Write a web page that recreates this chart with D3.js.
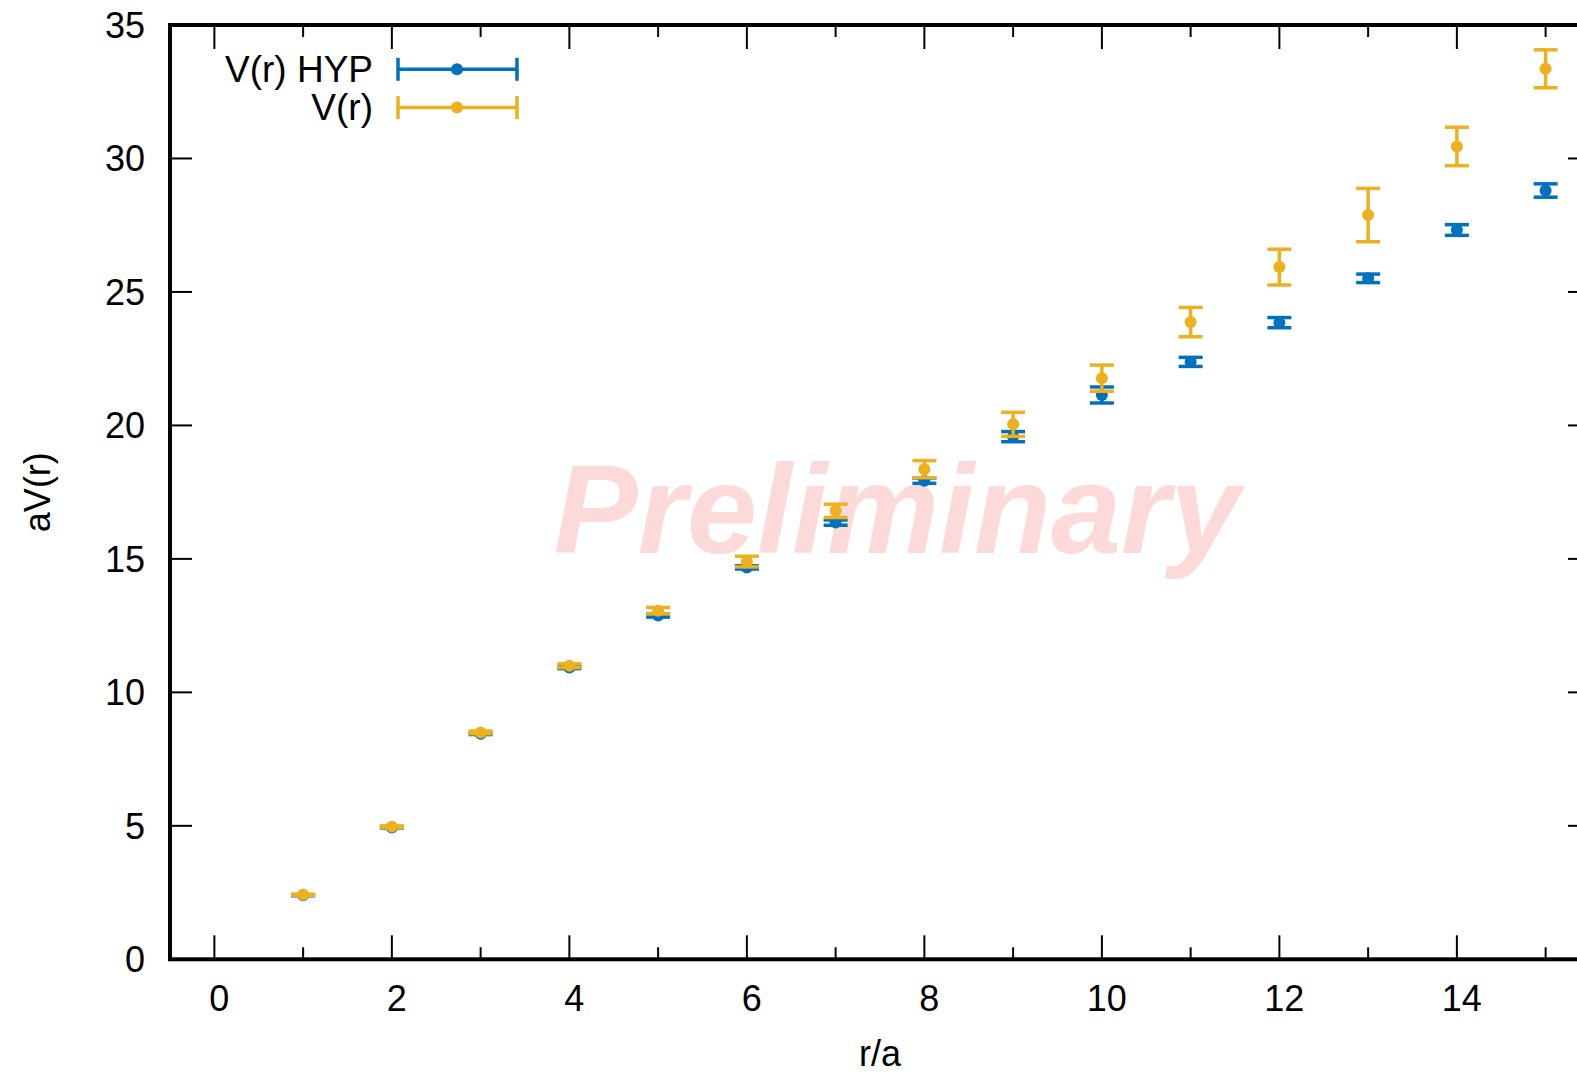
<!DOCTYPE html>
<html>
<head>
<meta charset="utf-8">
<script src="https://cdn.jsdelivr.net/npm/d3@7"></script>
<style>
  body { margin: 0; background: #fff; }
  text { font-family: 'Liberation Sans', Arial, Helvetica, sans-serif; }
</style>
</head>
<body>
<div id="graph"></div>
<script>
var w = 1577;
var h = 1074;

// r/a values
var rVals = [1, 2, 3, 4, 5, 6, 7, 8, 9, 10, 11, 12, 13, 14, 15];

// V(r) HYP (blue)
var hypVals = [2.40, 4.94, 8.45, 10.93, 12.88, 14.68, 16.36, 17.93, 19.58, 21.14, 22.38, 23.85, 25.51, 27.32, 28.80];
var hypErrs = [0.02, 0.02, 0.03, 0.04, 0.06, 0.06, 0.10, 0.10, 0.19, 0.30, 0.17, 0.19, 0.16, 0.20, 0.25];

// V(r) (orange)
var vVals = [2.42, 4.97, 8.50, 11.00, 13.06, 14.90, 16.80, 18.36, 20.04, 21.77, 23.87, 25.93, 27.88, 30.45, 33.36];
var vErrs = [0.02, 0.03, 0.05, 0.07, 0.12, 0.20, 0.25, 0.32, 0.45, 0.49, 0.55, 0.67, 1.00, 0.72, 0.71];

var xTicks = [0, 2, 4, 6, 8, 10, 12, 14];
var xMinor = [1, 3, 5, 7, 9, 11, 13, 15];
var yTicks = [0, 5, 10, 15, 20, 25, 30, 35];

var seriesNames = ['V(r) HYP', 'V(r)'];
var colors = ['#0072bd', '#edb120'];

// plot frame (right edge falls outside the picture)
var pLeft = 170, pRight = 1590, pTop = 25, pBottom = 959.3;

var x = d3.scaleLinear().domain([-0.5, 15.5]).range([pLeft, pRight]);
var y = d3.scaleLinear().domain([0, 35]).range([pBottom, pTop]);

var vis = d3.select('#graph')
  .append('svg')
  .attr('width', w)
  .attr('height', h);

// watermark behind data
vis.append('text')
  .attr('x', 897)
  .attr('y', 553)
  .attr('text-anchor', 'middle')
  .style('font-size', '126px')
  .style('font-weight', 'bold')
  .style('font-style', 'italic')
  .attr('fill', '#fddada')
  .text('Preliminary');

// ticks (inward, mirrored)
var tickG = vis.append('g').attr('stroke', '#000').attr('stroke-width', 2);

function xTickLines(vals, len) {
  tickG.selectAll(null).data(vals).enter().append('line')
    .attr('x1', function (d) { return x(d); })
    .attr('x2', function (d) { return x(d); })
    .attr('y1', pBottom)
    .attr('y2', pBottom - len);
  tickG.selectAll(null).data(vals).enter().append('line')
    .attr('x1', function (d) { return x(d); })
    .attr('x2', function (d) { return x(d); })
    .attr('y1', pTop)
    .attr('y2', pTop + len);
}
xTickLines(xTicks, 24);
xTickLines(xMinor, 12);

tickG.selectAll(null).data(yTicks).enter().append('line')
  .attr('x1', pLeft)
  .attr('x2', pLeft + 22)
  .attr('y1', function (d) { return y(d); })
  .attr('y2', function (d) { return y(d); });
tickG.selectAll(null).data(yTicks).enter().append('line')
  .attr('x1', pRight)
  .attr('x2', pRight - 22)
  .attr('y1', function (d) { return y(d); })
  .attr('y2', function (d) { return y(d); });

// tick labels
vis.selectAll('text.xlab')
  .data(xTicks)
  .enter()
  .append('text')
  .attr('class', 'xlab')
  .attr('x', function (d) { return x(d) + 5; })
  .attr('y', 1011)
  .attr('text-anchor', 'middle')
  .style('font-size', '36px')
  .text(function (d) { return d; });

vis.selectAll('text.ylab')
  .data(yTicks)
  .enter()
  .append('text')
  .attr('class', 'ylab')
  .attr('x', 145)
  .attr('y', function (d) { return y(d) + 13; })
  .attr('text-anchor', 'end')
  .style('font-size', '36px')
  .text(function (d) { return d; });

// axis titles
vis.append('text')
  .attr('x', (pLeft + pRight) / 2)
  .attr('y', 1066)
  .attr('text-anchor', 'middle')
  .style('font-size', '36px')
  .text('r/a');

vis.append('text')
  .attr('transform', 'translate(50,' + ((pTop + pBottom) / 2) + ') rotate(-90)')
  .attr('text-anchor', 'middle')
  .style('font-size', '36px')
  .text('aV(r)');

// data series: blue first, orange on top
var series = [
  { name: seriesNames[0], color: colors[0], vals: hypVals, errs: hypErrs },
  { name: seriesNames[1], color: colors[1], vals: vVals, errs: vErrs }
];

series.forEach(function (s) {
  var pts = rVals.map(function (r, i) {
    return { r: r, v: s.vals[i], e: s.errs[i] };
  });
  var g = vis.append('g')
    .attr('stroke', s.color)
    .attr('fill', s.color)
    .attr('stroke-width', 3.5);

  var pt = g.selectAll('g.pt')
    .data(pts)
    .enter()
    .append('g')
    .attr('class', 'pt');

  pt.append('line')
    .attr('x1', function (d) { return x(d.r); })
    .attr('x2', function (d) { return x(d.r); })
    .attr('y1', function (d) { return y(d.v + d.e); })
    .attr('y2', function (d) { return y(d.v - d.e); });
  pt.append('line')
    .attr('x1', function (d) { return x(d.r) - 12; })
    .attr('x2', function (d) { return x(d.r) + 12; })
    .attr('y1', function (d) { return y(d.v + d.e); })
    .attr('y2', function (d) { return y(d.v + d.e); });
  pt.append('line')
    .attr('x1', function (d) { return x(d.r) - 12; })
    .attr('x2', function (d) { return x(d.r) + 12; })
    .attr('y1', function (d) { return y(d.v - d.e); })
    .attr('y2', function (d) { return y(d.v - d.e); });
  pt.append('circle')
    .attr('cx', function (d) { return x(d.r); })
    .attr('cy', function (d) { return y(d.v); })
    .attr('r', 6)
    .attr('stroke', 'none');
});

// legend
var leg = vis.selectAll('g.leg')
  .data(series)
  .enter()
  .append('g')
  .attr('class', 'leg')
  .attr('transform', function (d, i) {
    return 'translate(0,' + (69.3 + i * 38.3) + ')';
  });

leg.append('text')
  .attr('x', 373)
  .attr('y', 12.5)
  .attr('text-anchor', 'end')
  .style('font-size', '37px')
  .text(function (d) { return d.name; });

leg.append('line')
  .attr('x1', 398).attr('x2', 517).attr('y1', 0).attr('y2', 0)
  .attr('stroke', function (d) { return d.color; })
  .attr('stroke-width', 3.5);
leg.append('line')
  .attr('x1', 398).attr('x2', 398).attr('y1', -11.5).attr('y2', 11.5)
  .attr('stroke', function (d) { return d.color; })
  .attr('stroke-width', 3.5);
leg.append('line')
  .attr('x1', 517).attr('x2', 517).attr('y1', -11.5).attr('y2', 11.5)
  .attr('stroke', function (d) { return d.color; })
  .attr('stroke-width', 3.5);
leg.append('circle')
  .attr('cx', 457).attr('cy', 0).attr('r', 6)
  .attr('fill', function (d) { return d.color; });

// frame
vis.append('rect')
  .attr('x', pLeft)
  .attr('y', pTop)
  .attr('width', pRight - pLeft)
  .attr('height', pBottom - pTop)
  .attr('fill', 'none')
  .attr('stroke', '#000')
  .attr('stroke-width', 4);
</script>
</body>
</html>
